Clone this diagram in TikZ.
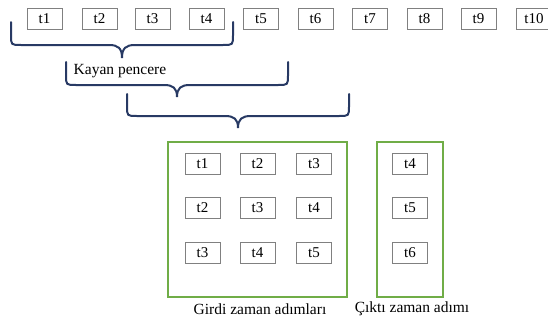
\documentclass[tikz,border=0pt]{standalone}
\usepackage{fontspec}
\setmainfont{Liberation Serif}
\definecolor{navy}{RGB}{40,58,100}
\definecolor{grn}{RGB}{112,173,71}
\definecolor{bgray}{RGB}{128,128,128}
\newcommand\mybrace[6]{%
  \draw[bracestyle] (#1,#4) -- (#1,#5-10) .. controls (#1,#5) .. (#1+10,#5)
    -- (#3-13,#5) .. controls (#3-4,#5) and (#3,#5+3) .. (#3,#6)
    .. controls (#3,#5+3) and (#3+4,#5) .. (#3+13,#5)
    -- (#2-10,#5) .. controls (#2,#5) .. (#2,#5-10) -- (#2,#4);}
\begin{document}
\begin{tikzpicture}[x=1pt,y=-1pt,
  tbox/.style={draw=bgray,line width=0.8pt,minimum width=35pt,minimum height=21pt,inner sep=0pt,font=\rmfamily\fontsize{15}{17}\selectfont},
  gbox/.style={draw=grn,line width=2.4pt},
  bracestyle/.style={draw=navy,line width=2pt,line cap=round},
  lbl/.style={font=\rmfamily\fontsize{15.5}{18}\selectfont,inner sep=0pt}]
\useasboundingbox (0,0) rectangle (548,324);
% top row
\foreach \i/\x in {1/44.5,2/99.5,3/152.5,4/206.5,5/261,6/315.5,7/370,8/424.5,9/478.5,10/534}
  \node[tbox] (top\i) at (\x,19) {t\i};
% braces
\mybrace{11}{233}{122}{22}{45}{58}
\mybrace{66}{288}{177}{62}{85}{97}
\mybrace{127}{349}{238}{94}{116}{128}
\node[lbl] (kayan) at (120,71) {Kayan pencere};
% green frames
\draw[gbox] (168,142) rectangle (347,297);
\draw[gbox] (377,142) rectangle (443,297);
% input grid
\node[tbox] (a11) at (202.5,163.5) {t1};
\node[tbox] (a12) at (257.5,163.5) {t2};
\node[tbox] (a13) at (314,163.5) {t3};
\node[tbox] (a21) at (202.5,208) {t2};
\node[tbox] (a22) at (257.5,208) {t3};
\node[tbox] (a23) at (314,208) {t4};
\node[tbox] (a31) at (202.5,253) {t3};
\node[tbox] (a32) at (257.5,253) {t4};
\node[tbox] (a33) at (314,253) {t5};
% output column
\node[tbox] (o1) at (410,163.5) {t4};
\node[tbox] (o2) at (410,208) {t5};
\node[tbox] (o3) at (410,253) {t6};
\node[lbl] (girdi) at (260,309) {Girdi zaman adımları};
\node[lbl] (cikti) at (412,309) {Çıktı zaman adımı};
\end{tikzpicture}
\end{document}
